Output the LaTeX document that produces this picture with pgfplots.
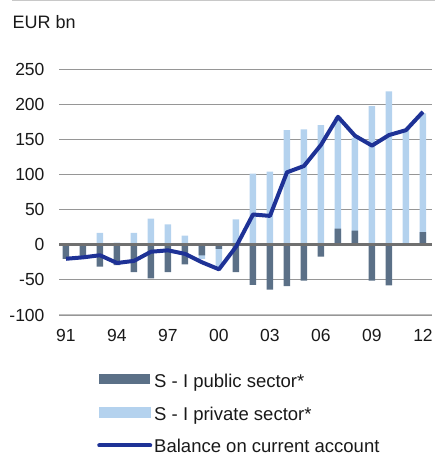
\documentclass[border=0pt]{standalone}
\usepackage{fontspec}
\setmainfont{Liberation Sans}
\usepackage{pgfplots}
\pgfplotsset{compat=1.18}
\definecolor{pubc}{RGB}{91,112,135}
\definecolor{privc}{RGB}{180,210,238}
\definecolor{cac}{RGB}{30,50,150}
\definecolor{zeroc}{RGB}{112,112,112}
\definecolor{gridc}{RGB}{150,150,150}
\definecolor{txt}{RGB}{25,25,25}
\begin{document}
\begin{tikzpicture}
\useasboundingbox (0,0) rectangle (435pt,457pt);
\draw[color={rgb,255:red,200;green,200;blue,200}, line width=1pt] (12pt,456.5pt) -- (435pt,456.5pt);
\node[anchor=base west, inner sep=0pt, font=\fontsize{18}{21}\selectfont, text=txt] at (12.5pt,428.5pt) {EUR bn};
\begin{axis}[
  at={(59pt,142pt)}, anchor=south west,
  scale only axis, width=373pt, height=246pt,
  xmin=1990.59, xmax=2012.53,
  ymin=-100, ymax=250,
  ytick={-100,-50,...,250},
  xtick={1991,1994,...,2012},
  xticklabels={91,94,97,00,03,06,09,12},
  axis line style={draw=none},
  major tick length=0pt,
  ymajorgrids,
  grid style={gridc, line width=0.9pt},
  /pgf/number format/assume math mode=true,
  ticklabel style={font=\fontsize{17.5}{21}\selectfont, text=txt},
  yticklabel style={xshift=-11pt},
  xticklabel style={yshift=-11pt},
  legend style={at={(0.102,-0.240)}, anchor=north west, draw=none, fill=none,
    inner sep=0pt, row sep=16.5pt, font=\fontsize{18.5}{22}\selectfont,
    nodes={inner sep=0pt, text height=12.5pt, text depth=3.5pt, text=txt},
    /tikz/every odd column/.style={column sep=2pt}},
  legend cell align=left,
]
\addplot[ybar, bar width=6.5pt, bar shift=0pt, fill=privc, draw=none, forget plot] coordinates {
(1991,0) (1992,0) (1993,17) (1994,3) (1995,17) (1996,37) (1997,29) (1998,13)
(1999,-20) (2000,-32) (2001,36) (2002,101) (2003,104) (2004,163) (2005,164)
(2006,170) (2007,182) (2008,152) (2009,197) (2010,218) (2011,164) (2012,187)};
\addplot[ybar, bar width=6.5pt, bar shift=0pt, fill=pubc, draw=none,
  legend image code/.code={\fill[pubc] (0pt,-1.5pt) rectangle (51pt,8.5pt);}] coordinates {
(1991,-20) (1992,-17) (1993,-31) (1994,-29) (1995,-39) (1996,-48) (1997,-39) (1998,-28)
(1999,-15) (2000,-6) (2001,-39) (2002,-57) (2003,-64) (2004,-59) (2005,-51)
(2006,-17) (2007,23) (2008,20) (2009,-51) (2010,-58) (2011,-1) (2012,18)};
\addlegendentry{S - I public sector*}
\addlegendimage{legend image code/.code={\fill[privc] (0pt,-1.5pt) rectangle (51pt,8.5pt);}}
\addlegendentry{S - I private sector*}
\addplot[zeroc, line width=3pt, forget plot] coordinates {(1990.59,0) (2012.53,0)};
\addplot[cac, line width=4pt, line join=round,
  legend image code/.code={\draw[cac, line width=4pt, line cap=round] (0pt,3pt) -- (51pt,3pt);}] coordinates {
(1991,-20) (1992,-18) (1993,-15) (1994,-26) (1995,-23) (1996,-10) (1997,-8) (1998,-13)
(1999,-25) (2000,-35) (2001,-3) (2002,43) (2003,41) (2004,103) (2005,112)
(2006,142) (2007,182) (2008,155) (2009,141) (2010,156) (2011,163) (2012,189)};
\addlegendentry{Balance on current account}
\draw[color={rgb,255:red,190;green,190;blue,190}, line width=1.5pt] (rel axis cs:0,0) -- (rel axis cs:1,0);
\end{axis}
\end{tikzpicture}
\end{document}
